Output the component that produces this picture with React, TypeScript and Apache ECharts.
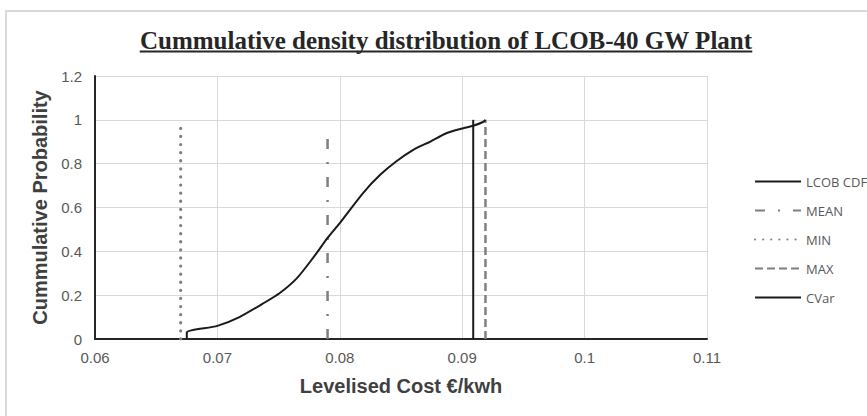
import React, { useEffect, useRef } from "react";
import * as echarts from "echarts";

const chartTitle = "Cummulative density distribution of LCOB-40 GW Plant";
const xAxisName = "Levelised Cost €/kwh";
const yAxisName = "Cummulative Probability";
const seriesNames = ["LCOB CDF", "MEAN", "MIN", "MAX", "CVar"];

// CDF curve points [cost, cumulative probability]
const cdfCost = [0.0675, 0.0675, 0.07, 0.0718, 0.0737, 0.0751, 0.0765, 0.0778, 0.079, 0.08, 0.0819, 0.0833, 0.0846, 0.086, 0.0874, 0.0887, 0.0901, 0.0909, 0.0917, 0.0919];
const cdfProb = [0, 0.03, 0.06, 0.1, 0.161, 0.21, 0.278, 0.369, 0.461, 0.529, 0.666, 0.749, 0.81, 0.863, 0.901, 0.939, 0.962, 0.973, 0.99, 1.0];

// Vertical marker lines: [cost, top]
const meanCost = 0.079;
const meanTop = 0.97;
const minCost = 0.067;
const minTop = 0.98;
const maxCost = 0.0919;
const maxTop = 1.0;
const cvarCost = 0.0909;
const cvarTop = 1.0;

const xMin = 0.06, xMax = 0.11, xStep = 0.01;
const yMin = 0, yMax = 1.2, yStep = 0.2;

const SANS = "Liberation Sans";

export default function App() {
  const ref = useRef<HTMLDivElement>(null);
  useEffect(() => {
    if (!ref.current) return;
    const chart = echarts.init(ref.current, undefined, { renderer: "svg" });

    const titleFont = 'bold 25px "Liberation Serif"';
    let titleW = 611;
    try {
      const c = document.createElement("canvas").getContext("2d");
      if (c) { c.font = titleFont; titleW = c.measureText(chartTitle).width; }
    } catch (e) {}
    const titleCx = 446;

    const vline = (x: number, top: number) => [[x, 0], [x, top]];
    const gray = "#7f7f7f";

    chart.setOption({
      animation: false,
      backgroundColor: "#ffffff",
      textStyle: { fontFamily: SANS },
      grid: { left: 95, right: 160, top: 76, bottom: 77, containLabel: false },
      graphic: [
        { type: "rect", shape: { x: 6, y: 11, width: 900, height: 450 }, style: { fill: "none", stroke: "#d9d9d9", lineWidth: 2 }, silent: true },
        { type: "text", x: titleCx, y: 40, style: { text: chartTitle, font: titleFont, fill: "#262626", align: "center", verticalAlign: "middle" } },
        { type: "line", shape: { x1: titleCx - titleW / 2, y1: 51.5, x2: titleCx + titleW / 2, y2: 51.5 }, style: { stroke: "#262626", lineWidth: 2 } },
      ],
      legend: {
        orient: "vertical",
        left: 749,
        top: 170,
        itemWidth: 46,
        itemHeight: 14,
        itemGap: 16,
        data: seriesNames,
        itemStyle: { opacity: 0 },
        textStyle: { fontFamily: "Open Sans", fontSize: 13, color: "#595959" },
      },
      xAxis: {
        type: "value",
        min: xMin,
        max: xMax,
        interval: xStep,
        name: xAxisName,
        nameLocation: "middle",
        nameGap: 37,
        nameTextStyle: { fontFamily: SANS, fontWeight: "bold", fontSize: 20, color: "#404040" },
        axisLine: { show: true, onZero: false, lineStyle: { color: "#262626", width: 2 } },
        axisTick: { show: false },
        axisLabel: { show: true, margin: 11, fontSize: 15, fontFamily: SANS, color: "#595959" },
        splitLine: { show: true, lineStyle: { color: "#d9d9d9", width: 1 } },
      },
      yAxis: {
        type: "value",
        min: yMin,
        max: yMax,
        interval: yStep,
        name: yAxisName,
        nameLocation: "middle",
        nameGap: 42,
        nameTextStyle: { fontFamily: SANS, fontWeight: "bold", fontSize: 20, color: "#404040" },
        axisLine: { show: true, lineStyle: { color: "#262626", width: 2 } },
        axisTick: { show: false },
        axisLabel: { show: true, margin: 13, fontSize: 15, fontFamily: SANS, color: "#595959" },
        splitLine: { show: true, lineStyle: { color: "#d9d9d9", width: 1 } },
      },
      series: [
        {
          name: seriesNames[0], type: "line", symbol: "none", smooth: 0.25,
          data: cdfCost.map((x, i) => [x, cdfProb[i]]),
          lineStyle: { color: "#1a1a1a", width: 2 }, itemStyle: { color: "#1a1a1a" }, z: 5,
        },
        {
          name: seriesNames[1], type: "line", symbol: "none", data: vline(meanCost, meanTop),
          lineStyle: { color: gray, width: 2.5, type: [10, 13, 2, 13] }, itemStyle: { color: gray },
        },
        {
          name: seriesNames[2], type: "line", symbol: "none", data: vline(minCost, minTop),
          lineStyle: { color: gray, width: 3.2, type: [0.1, 8], cap: "round" }, itemStyle: { color: gray },
        },
        {
          name: seriesNames[3], type: "line", symbol: "none", data: vline(maxCost, maxTop),
          lineStyle: { color: gray, width: 2.5, type: [8, 4] }, itemStyle: { color: gray },
        },
        {
          name: seriesNames[4], type: "line", symbol: "none", data: vline(cvarCost, cvarTop),
          lineStyle: { color: "#1a1a1a", width: 2 }, itemStyle: { color: "#1a1a1a" }, z: 4,
        },
      ],
    });
    return () => chart.dispose();
  }, []);
  return <div ref={ref} style={{ position: "fixed", left: 0, top: 0, width: 867, height: 416 }} />;
}
